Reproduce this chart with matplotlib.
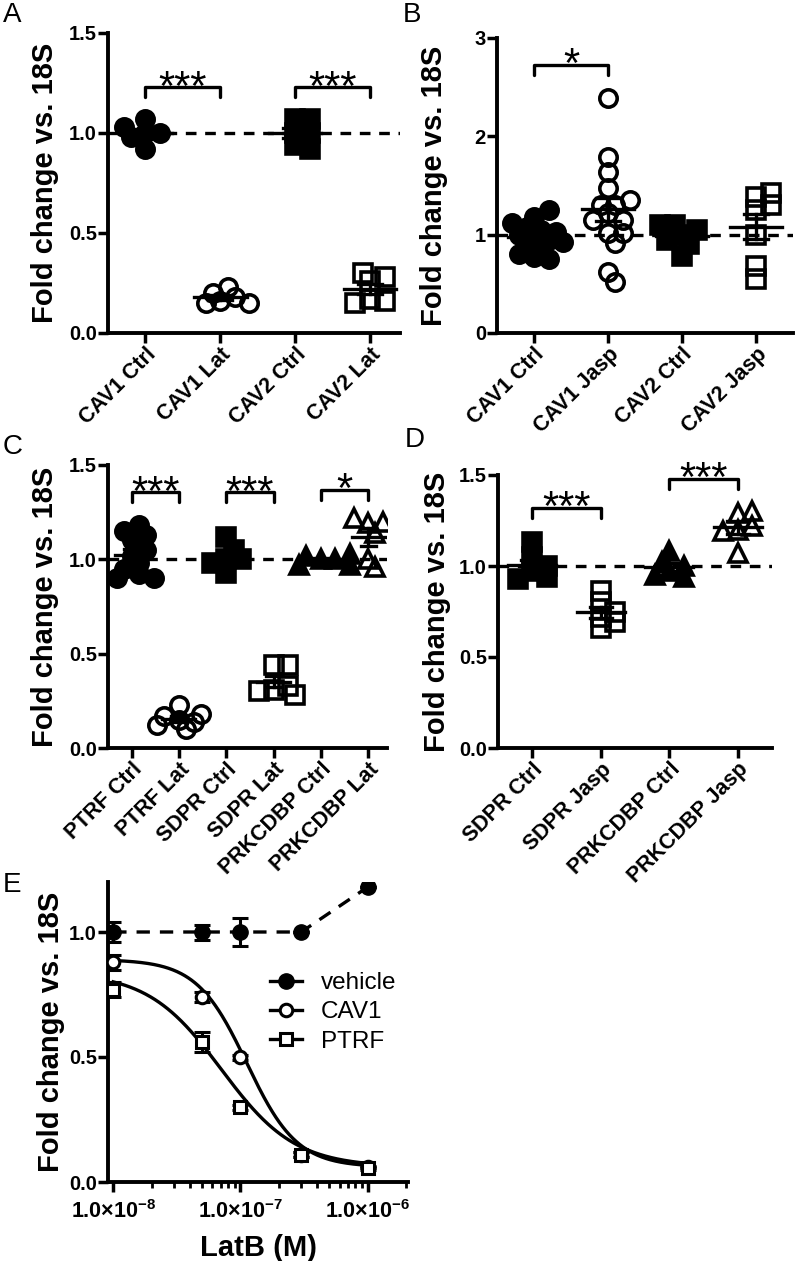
import numpy as np
import matplotlib
matplotlib.use('Agg')
import matplotlib.pyplot as plt
from matplotlib.ticker import LogLocator, NullFormatter
from matplotlib.lines import Line2D

plt.rcParams['font.family'] = ['Liberation Sans', 'DejaVu Sans']
plt.rcParams['mathtext.fontset'] = 'custom'
plt.rcParams['mathtext.rm'] = 'Liberation Sans:bold'
plt.rcParams['mathtext.bf'] = 'Liberation Sans:bold'

##########
# DATOS  #
##########
# A
a_labels = ['CAV1 Ctrl', 'CAV1 Lat', 'CAV2 Ctrl', 'CAV2 Lat']
a_cav1_ctrl = [1.00, 1.07, 1.03, 1.00, 0.92, 0.98]
a_cav1_lat = [0.16, 0.20, 0.23, 0.15, 0.15, 0.18]
a_cav2_ctrl = [1.07, 1.07, 1.00, 1.00, 0.92, 0.94]
a_cav2_lat = [0.30, 0.28, 0.26, 0.17, 0.15, 0.16]
a_sig = [(0, 1, 1.23, '***'), (2, 3, 1.23, '***')]

# B
b_labels = ['CAV1 Ctrl', 'CAV1 Jasp', 'CAV2 Ctrl', 'CAV2 Jasp']
b_cav1_ctrl = [1.25, 1.18, 1.12, 1.08, 1.03, 1.00, 0.97, 0.93, 0.88, 0.85, 0.80, 0.77, 0.75, 1.05, 0.95]
b_cav1_jasp = [2.39, 1.79, 1.64, 1.47, 1.35, 1.30, 1.30, 1.22, 1.15, 1.15, 1.02, 1.02, 0.92, 0.62, 0.52]
b_cav2_ctrl = [1.10, 1.10, 1.05, 1.00, 0.95, 0.90, 0.78]
b_cav2_jasp = [1.42, 1.38, 1.30, 1.25, 1.00, 0.68, 0.55]
b_sig = [(0, 1, 2.73, '*')]

# C
c_labels = ['PTRF Ctrl', 'PTRF Lat', 'SDPR Ctrl', 'SDPR Lat', 'PRKCDBP Ctrl', 'PRKCDBP Lat']
c_ptrf_ctrl = [1.18, 1.15, 1.13, 1.10, 1.05, 1.02, 0.98, 0.95, 0.92, 0.90, 0.90]
c_ptrf_lat = [0.23, 0.18, 0.15, 0.14, 0.12, 0.10, 0.17]
c_sdpr_ctrl = [1.12, 1.05, 1.00, 1.00, 0.98, 0.93]
c_sdpr_lat = [0.44, 0.44, 0.31, 0.28, 0.30, 0.33]
c_prk_ctrl = [1.03, 1.00, 0.97, 0.97, 1.00, 1.02]
c_prk_lat = [1.22, 1.20, 1.19, 1.14, 1.00, 0.96]
c_sig = [(0, 1, 1.355, '***'), (2, 3, 1.355, '***'), (4, 5, 1.37, '*')]

# D
d_labels = ['SDPR Ctrl', 'SDPR Jasp', 'PRKCDBP Ctrl', 'PRKCDBP Jasp']
d_sdpr_ctrl = [1.13, 1.05, 1.00, 0.97, 0.94, 0.93]
d_sdpr_jasp = [0.86, 0.80, 0.72, 0.66, 0.69, 0.75]
d_prk_ctrl = [1.08, 1.02, 1.00, 0.97, 0.95, 0.94]
d_prk_jasp = [1.29, 1.30, 1.22, 1.20, 1.19, 1.07]
d_sig = [(0, 1, 1.32, '***'), (2, 3, 1.48, '***')]

# E
e_conc = [1e-8, 5e-8, 1e-7, 3e-7, 1e-6]
e_vehicle = [1.00, 1.00, 1.00, 1.00, 1.18]
e_vehicle_err = [0.04, 0.03, 0.055, 0.0, 0.0]
e_cav1 = [0.88, 0.74, 0.50, 0.11, 0.06]
e_cav1_err = [0.03, 0.02, 0.01, 0.01, 0.005]
e_ptrf = [0.77, 0.56, 0.30, 0.11, 0.055]
e_ptrf_err = [0.03, 0.04, 0.01, 0.01, 0.005]
# ajuste sigmoidal (top, bottom, logIC50, pendiente)
e_cav1_fit = (0.89, 0.06, -6.95, 2.2)
e_ptrf_fit = (0.84, 0.06, -7.15, 1.5)

##########
# ESTILO #
##########
W, H = 795, 1261
fig = plt.figure(figsize=(W / 100, H / 100), dpi=100)

LW = 2.8
MS = 12.5
MEW = 2.6
TICKFS = 14.5
XTICKFS = 15.5
YLABFS = 21

def px_axes(l, t, r, b):
    return fig.add_axes([l / W, 1 - b / H, (r - l) / W, (b - t) / H])

def style_axes(ax):
    for s in ['top', 'right']:
        ax.spines[s].set_visible(False)
    for s in ['left', 'bottom']:
        ax.spines[s].set_linewidth(LW)
    ax.tick_params(direction='out', length=7, width=2.5, labelsize=TICKFS, pad=1)

def swarm(ax, x0, vals, diam):
    # reparte los puntos horizontalmente (en píxeles) como hace GraphPad
    tr = ax.transData
    vals = np.asarray(vals, float)
    ys = tr.transform(np.column_stack([np.full(len(vals), x0), vals]))[:, 1]
    x0p = tr.transform((x0, 0))[0]
    placed = []
    out = np.zeros(len(vals))
    step = 0.42 * diam
    for i in np.argsort(np.abs(vals - np.median(vals))):
        for k in [0, 1, -1, 2, -2, 3, -3, 4, -4]:
            xp = x0p + k * step
            if all(np.hypot(xp - a, ys[i] - b) >= 0.6 * diam for a, b in placed):
                break
        placed.append((xp, ys[i]))
        out[i] = xp
    return tr.inverted().transform(np.column_stack([out, ys]))[:, 0]

def scatter_panel(ax, groups, markers, labels, ylim, yticks, yfmt, sig, xlim):
    style_axes(ax)
    ax.set_xlim(*xlim)
    ax.set_ylim(*ylim)
    ax.axhline(1.0, color='k', lw=2.4, ls=(0, (3.2, 2.6)), zorder=1)
    diam = MS * 100 / 72
    for i, (vals, (mk, filled)) in enumerate(zip(groups, markers)):
        xs = swarm(ax, i, vals, diam)
        ax.plot(xs, vals, ls='none', marker=mk, ms=MS if mk != '^' else MS + 1,
                mfc='k' if filled else 'none', mec='k', mew=MEW, zorder=3)
        m = np.mean(vals)
        sem = np.std(vals, ddof=1) / np.sqrt(len(vals))
        ax.plot([i - 0.35, i + 0.35], [m, m], color='k', lw=2.4, zorder=4)
        ax.plot([i, i], [m - sem, m + sem], color='k', lw=2.4, zorder=4)
        for yy in (m - sem, m + sem):
            ax.plot([i - 0.16, i + 0.16], [yy, yy], color='k', lw=2.4, zorder=4)
    ppu = ax.transData.transform((0, 1))[1] - ax.transData.transform((0, 0))[1]
    leg = 10 / ppu
    for i, j, y, txt in sig:
        ax.plot([i, i, j, j], [y - leg, y, y, y - leg], color='k', lw=2.4,
                solid_capstyle='round', solid_joinstyle='round', zorder=4)
        ax.annotate(txt, ((i + j) / 2, y), xytext=(0, -9), textcoords='offset points',
                    ha='center', va='baseline', fontsize=30)
    ax.set_xticks(range(len(labels)))
    ax.set_xticklabels(labels, rotation=45, ha='right', rotation_mode='anchor',
                       fontsize=XTICKFS, fontweight='bold')
    ax.set_yticks(yticks)
    ax.set_yticklabels([yfmt % v for v in yticks], fontweight='bold', fontsize=TICKFS)

def ylabel(ax, xc_px, ax_left_px, ax_w_px):
    ax.set_ylabel('Fold change vs. 18S', fontsize=YLABFS, fontweight='bold')
    ax.yaxis.label.set_va('center')
    ax.yaxis.set_label_coords((xc_px - ax_left_px) / ax_w_px, 0.5)

circ_f, circ_o, sq_f, sq_o, tri_f, tri_o = ('o', True), ('o', False), ('s', True), ('s', False), ('^', True), ('^', False)

# A
axA = px_axes(108, 33, 400, 333)
scatter_panel(axA, [a_cav1_ctrl, a_cav1_lat, a_cav2_ctrl, a_cav2_lat],
              [circ_f, circ_o, sq_f, sq_o], a_labels, (0, 1.5), [0, 0.5, 1.0, 1.5], '%.1f', a_sig, (-0.5, 3.4))
ylabel(axA, 45, 108, 292)

# B
axB = px_axes(497, 38, 793, 333)
scatter_panel(axB, [b_cav1_ctrl, b_cav1_jasp, b_cav2_ctrl, b_cav2_jasp],
              [circ_f, circ_o, sq_f, sq_o], b_labels, (0, 3), [0, 1, 2, 3], '%d', b_sig, (-0.5, 3.5))
ylabel(axB, 434, 497, 296)

# C
axC = px_axes(108, 465, 387, 748)
scatter_panel(axC, [c_ptrf_ctrl, c_ptrf_lat, c_sdpr_ctrl, c_sdpr_lat, c_prk_ctrl, c_prk_lat],
              [circ_f, circ_o, sq_f, sq_o, tri_f, tri_o], c_labels, (0, 1.5), [0, 0.5, 1.0, 1.5], '%.1f', c_sig, (-0.5, 5.4))
ylabel(axC, 45, 108, 279)

# D
axD = px_axes(498, 475, 772, 748)
scatter_panel(axD, [d_sdpr_ctrl, d_sdpr_jasp, d_prk_ctrl, d_prk_jasp],
              [sq_f, sq_o, tri_f, tri_o], d_labels, (0, 1.5), [0, 0.5, 1.0, 1.5], '%.1f', d_sig, (-0.5, 3.5))
ylabel(axD, 437, 498, 274)

# E
axE = px_axes(108, 882, 408, 1182)
style_axes(axE)
axE.set_xscale('log')
axE.set_xlim(0.91e-8, 2.07e-6)
axE.set_ylim(0, 1.2)

def hill(x, p):
    top, bottom, logec, n = p
    return bottom + (top - bottom) / (1 + 10 ** ((np.log10(x) - logec) * n))

xx = np.logspace(-8, -6, 300)
axE.plot(xx, hill(xx, e_cav1_fit), color='k', lw=2.4, zorder=2)
axE.plot(xx, hill(xx, e_ptrf_fit), color='k', lw=2.4, zorder=2)
axE.plot(e_conc, e_vehicle, color='k', lw=2.4, ls=(0, (4, 3)), zorder=2)
for yv, ye in [(e_vehicle, e_vehicle_err), (e_cav1, e_cav1_err), (e_ptrf, e_ptrf_err)]:
    axE.errorbar(e_conc, yv, yerr=ye, fmt='none', ecolor='k', elinewidth=2.2,
                 capsize=6, capthick=2.2, zorder=3)
axE.plot(e_conc, e_vehicle, ls='none', marker='o', ms=11, mfc='k', mec='k', zorder=4)
axE.plot(e_conc, e_cav1, ls='none', marker='o', ms=9, mfc='white', mec='k', mew=2.2, zorder=4)
axE.plot(e_conc, e_ptrf, ls='none', marker='s', ms=9, mfc='white', mec='k', mew=2.2, zorder=4)

axE.set_xticks([1e-8, 1e-7, 1e-6])
axE.set_xticklabels([r'$\mathbf{1.0{\times}10^{-8}}$', r'$\mathbf{1.0{\times}10^{-7}}$',
                     r'$\mathbf{1.0{\times}10^{-6}}$'], fontsize=15.5)
axE.xaxis.set_minor_locator(LogLocator(base=10, subs=np.arange(2, 10)))
axE.xaxis.set_minor_formatter(NullFormatter())
axE.tick_params(axis='x', which='minor', length=4, width=2.0)
axE.tick_params(axis='x', which='major', pad=6)
axE.set_yticks([0, 0.5, 1.0])
axE.set_yticklabels(['0.0', '0.5', '1.0'], fontweight='bold', fontsize=TICKFS)
axE.set_xlabel('LatB (M)', fontsize=21, fontweight='bold', labelpad=8)
ylabel(axE, 51, 108, 300)

handles = [
    Line2D([], [], color='k', lw=2.4, marker='o', ms=11, mfc='k', mec='k'),
    Line2D([], [], color='k', lw=2.4, marker='o', ms=9, mfc='white', mec='k', mew=2.2),
    Line2D([], [], color='k', lw=2.4, marker='s', ms=9, mfc='white', mec='k', mew=2.2),
]
axE.legend(handles, ['vehicle', 'CAV1', 'PTRF'], loc='upper left', bbox_to_anchor=(0.5, 0.74),
           frameon=False, fontsize=17.5, handlelength=1.3, handletextpad=0.8,
           labelspacing=0.3, borderpad=0)

# letras de panel
for lab, x, y in [('A', 3, 22), ('B', 403, 22), ('C', 3, 454), ('D', 405, 447), ('E', 3, 892)]:
    fig.text(x / W, 1 - y / H, lab, fontsize=20, ha='left', va='baseline')

fig.savefig('out.png', dpi=100)
